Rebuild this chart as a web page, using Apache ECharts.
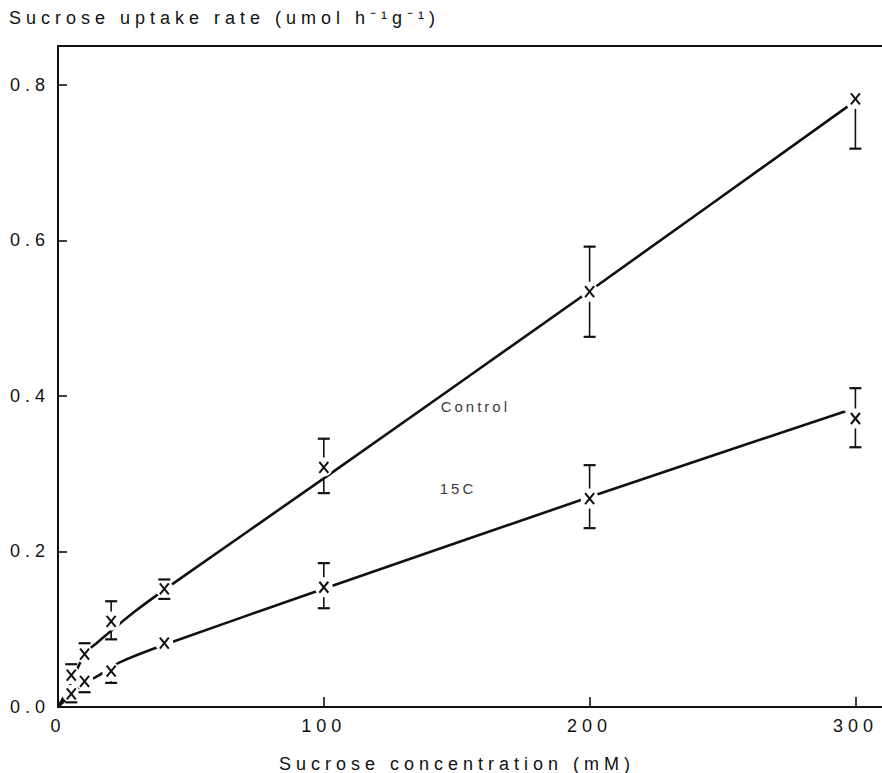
<!DOCTYPE html>
<html>
<head>
<meta charset="utf-8">
<title>Sucrose uptake</title>
<script src="https://cdn.jsdelivr.net/npm/echarts@6/dist/echarts.min.js"></script>
<style>
  html, body { margin: 0; padding: 0; background: #ffffff; }
  #chart { width: 882px; height: 773px; }
  /* wide typewriter-like tracking of all chart text */
  #chart text { letter-spacing: 5px; }
  #chart text[style*="15px"] { letter-spacing: 3px; }
</style>
</head>
<body>
<div id="chart"></div>
<script>
// Measured uptake (x = sucrose concentration, mM)
const concentration = [5, 10, 20, 40, 100, 200, 300];
const controlRate = [0.041, 0.068, 0.110, 0.152, 0.308, 0.534, 0.782];
const controlHigh = [0.055, 0.082, 0.136, 0.164, 0.345, 0.592, null];
const controlLow  = [null, null, 0.087, 0.139, 0.275, 0.476, 0.718];
const rate15C = [0.017, 0.033, 0.046, 0.082, 0.154, 0.268, 0.371];
const high15C = [null, null, null, null, 0.185, 0.311, 0.410];
const low15C  = [0.006, 0.019, 0.031, null, 0.127, 0.230, 0.334];

// Hand-fitted curves through the data
const controlCurveX = [0, 4, 10, 14.5, 29, 43, 100, 200, 297];
const controlCurveY = [0, 0.024, 0.068, 0.082, 0.123, 0.158, 0.294, 0.535, 0.772];
const curve15CX = [0, 5, 10, 15, 23, 40, 100, 200, 296];
const curve15CY = [0, 0.016, 0.030, 0.040, 0.057, 0.080, 0.152, 0.270, 0.380];

// Axis ticks and text
const xTicks = [0, 100, 200, 300];
const yTicks = [0, 0.2, 0.4, 0.6, 0.8];
const seriesNames = ['Control', '15C'];
const yTitle = 'Sucrose uptake rate (umol h\u207B\u00B9g\u207B\u00B9)';
const xTitle = 'Sucrose concentration (mM)';

const INK = '#111111';
const FONT = 'Liberation Sans, Arial, Helvetica, sans-serif';

function pairs(xs, ys) { return xs.map((x, i) => [x, ys[i]]); }

// white halo behind each marker so the curves stop short of it
function haloItem(vals) {
  return function (params, api) {
    const i = params.dataIndex;
    const c = api.coord([concentration[i], vals[i]]);
    return { type: 'circle', shape: { cx: c[0], cy: c[1], r: 9 },
             style: { fill: '#ffffff', stroke: null } };
  };
}

// "x" marker with separate upper / lower error bars
function markerItem(vals, highs, lows) {
  return function (params, api) {
    const i = params.dataIndex;
    const c = api.coord([concentration[i], vals[i]]);
    const gap = 10, cap = 6;
    const kids = [];
    const bar = { stroke: INK, lineWidth: 1.6 };
    const capStyle = { stroke: INK, lineWidth: 2.2 };
    if (highs[i] != null) {
      const h = api.coord([concentration[i], highs[i]])[1];
      if (c[1] - h > gap + 1) {
        kids.push({ type: 'line', shape: { x1: c[0], y1: h, x2: c[0], y2: c[1] - gap }, style: bar });
      }
      kids.push({ type: 'line', shape: { x1: c[0] - cap, y1: h, x2: c[0] + cap, y2: h }, style: capStyle });
    }
    if (lows[i] != null) {
      const l = api.coord([concentration[i], lows[i]])[1];
      if (l - c[1] > gap + 1) {
        kids.push({ type: 'line', shape: { x1: c[0], y1: c[1] + gap, x2: c[0], y2: l }, style: bar });
      }
      kids.push({ type: 'line', shape: { x1: c[0] - cap, y1: l, x2: c[0] + cap, y2: l }, style: capStyle });
    }
    const w = 4.5, hh = 5.5;
    kids.push({ type: 'line', shape: { x1: c[0] - w, y1: c[1] - hh, x2: c[0] + w, y2: c[1] + hh },
                style: { stroke: INK, lineWidth: 2 } });
    kids.push({ type: 'line', shape: { x1: c[0] + w, y1: c[1] - hh, x2: c[0] - w, y2: c[1] + hh },
                style: { stroke: INK, lineWidth: 2 } });
    return { type: 'group', children: kids };
  };
}

const chart = echarts.init(document.getElementById('chart'), null, { renderer: 'svg' });

const option = {
  animation: false,
  backgroundColor: '#ffffff',
  textStyle: { fontFamily: FONT, color: INK },
  grid: { left: 58, right: 0, top: 46, bottom: 66, containLabel: false },
  graphic: [
    { type: 'text', left: 9, top: 9,
      style: { text: yTitle, fontSize: 18, fontFamily: FONT, fill: INK } },
    { type: 'text', x: 457, y: 764,
      style: { text: xTitle, fontSize: 18, fontFamily: FONT, fill: INK,
               align: 'center', verticalAlign: 'middle' } }
  ],
  xAxis: [
    {
      type: 'value', min: 0, max: 310, position: 'bottom',
      axisLine: { show: true, onZero: false, lineStyle: { color: INK, width: 2 } },
      axisTick: { show: true, inside: true, length: 10, customValues: xTicks,
                  lineStyle: { color: INK, width: 1.6 } },
      axisLabel: { show: true, customValues: xTicks, margin: 10, fontSize: 18,
                   fontFamily: FONT, color: INK, formatter: v => String(v) },
      splitLine: { show: false }
    },
    {
      type: 'value', min: 0, max: 310, position: 'top',
      axisLine: { show: true, onZero: false, lineStyle: { color: INK, width: 2 } },
      axisTick: { show: false }, axisLabel: { show: false }, splitLine: { show: false }
    }
  ],
  yAxis: {
    type: 'value', min: 0, max: 0.85,
    axisLine: { show: true, onZero: false, lineStyle: { color: INK, width: 2 } },
    axisTick: { show: true, inside: true, length: 9, customValues: yTicks,
                lineStyle: { color: INK, width: 1.6 } },
    axisLabel: { show: true, customValues: yTicks, margin: 8, fontSize: 18,
                 fontFamily: FONT, color: INK, formatter: v => v.toFixed(1) },
    splitLine: { show: false }
  },
  series: [
    { name: seriesNames[0] + ' curve', type: 'line', data: pairs(controlCurveX, controlCurveY),
      showSymbol: false, symbol: 'none', smooth: 0.25, z: 2,
      lineStyle: { color: INK, width: 2.6 } },
    { name: seriesNames[1] + ' curve', type: 'line', data: pairs(curve15CX, curve15CY),
      showSymbol: false, symbol: 'none', smooth: 0.25, z: 2,
      lineStyle: { color: INK, width: 2.6 } },
    { type: 'custom', z: 3, data: pairs(concentration, controlRate),
      encode: { x: 0, y: 1 }, renderItem: haloItem(controlRate) },
    { type: 'custom', z: 3, data: pairs(concentration, rate15C),
      encode: { x: 0, y: 1 }, renderItem: haloItem(rate15C) },
    { name: seriesNames[0], type: 'custom', z: 4, data: pairs(concentration, controlRate),
      encode: { x: 0, y: 1 }, renderItem: markerItem(controlRate, controlHigh, controlLow) },
    { name: seriesNames[1], type: 'custom', z: 4, data: pairs(concentration, rate15C),
      encode: { x: 0, y: 1 }, renderItem: markerItem(rate15C, high15C, low15C) },
    // curve labels
    { type: 'scatter', z: 5, symbolSize: 1, itemStyle: { color: 'rgba(0,0,0,0)' },
      data: [[157, 0.386], [150.5, 0.2816]],
      label: { show: true, position: 'inside', fontSize: 15, fontFamily: FONT, color: '#000000',
               formatter: p => seriesNames[p.dataIndex] } }
  ]
};

chart.setOption(option);
</script>
</body>
</html>
